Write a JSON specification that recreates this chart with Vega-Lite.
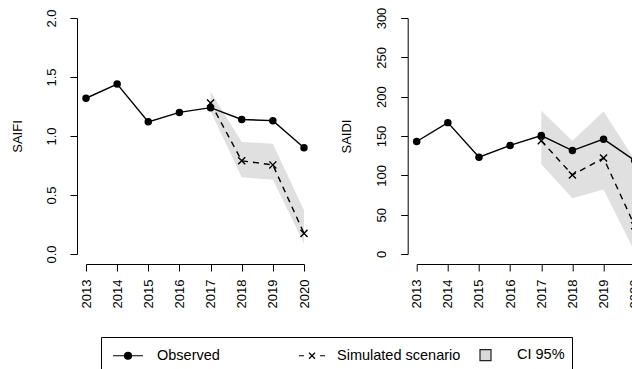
{
  "$schema": "https://vega.github.io/schema/vega-lite/v6.json",
  "background": "white",
  "padding": {"left": 11, "top": 7, "right": 0, "bottom": 0},
  "bounds": "flush",
  "spacing": 112.7,
  "config": {
    "view": {"stroke": null},
    "font": "Liberation Sans",
    "axis": {
      "grid": false, "domainColor": "black", "tickColor": "black", "labelColor": "black", "titleColor": "black",
      "labelFont": "Liberation Sans", "titleFont": "Liberation Sans", "labelFontSize": 13, "titleFontSize": 13,
      "titleFontWeight": "normal", "tickSize": 7, "domainWidth": 1, "tickWidth": 1, "labelOverlap": false, "labelFlush": false
    },
    "legend": {
      "orient": "none", "legendX": 15, "legendY": 319, "direction": "horizontal", "columns": 3,
      "gridAlign": "all", "columnPadding": 7, "padding": 7, "strokeColor": "black", "fillColor": "white",
      "symbolSize": 400, "symbolStrokeWidth": 1.2, "symbolOpacity": 1,
      "labelFont": "Liberation Sans", "labelFontSize": 14.5, "labelColor": "black", "labelOffset": 27, "labelLimit": 300
    }
  },
  "datasets": {
    "saifi_obs": [
      {"year": 2013, "value": 1.32}, {"year": 2014, "value": 1.44}, {"year": 2015, "value": 1.12}, {"year": 2016, "value": 1.20},
      {"year": 2017, "value": 1.24}, {"year": 2018, "value": 1.14}, {"year": 2019, "value": 1.13}, {"year": 2020, "value": 0.90}
    ],
    "saifi_sim": [
      {"year": 2017, "value": 1.28, "lo": 1.21, "hi": 1.375},
      {"year": 2018, "value": 0.79, "lo": 0.65, "hi": 0.95},
      {"year": 2019, "value": 0.755, "lo": 0.63, "hi": 0.935},
      {"year": 2020, "value": 0.175, "lo": 0.09, "hi": 0.37}
    ],
    "saidi_obs": [
      {"year": 2013, "value": 143}, {"year": 2014, "value": 167}, {"year": 2015, "value": 123}, {"year": 2016, "value": 138},
      {"year": 2017, "value": 150.5}, {"year": 2018, "value": 131.5}, {"year": 2019, "value": 146}, {"year": 2020, "value": 119}
    ],
    "saidi_sim": [
      {"year": 2017, "value": 144, "lo": 114, "hi": 182},
      {"year": 2018, "value": 100.5, "lo": 71, "hi": 144},
      {"year": 2019, "value": 122, "lo": 82, "hi": 181},
      {"year": 2020, "value": 36, "lo": 3, "hi": 120}
    ],
    "legend_items": [
      {"item": "Observed"}, {"item": "Simulated scenario"}, {"item": "CI 95%"}
    ]
  },
  "hconcat": [
    {
      "width": 218, "height": 236,
      "encoding": {
        "x": {"field": "year", "type": "quantitative", "title": null,
              "scale": {"domain": [2013, 2020], "nice": false, "zero": false},
              "axis": {"offset": 10, "values": [2013, 2014, 2015, 2016, 2017, 2018, 2019, 2020], "format": "d",
                       "labelAngle": -90, "labelAlign": "right", "labelBaseline": "middle", "labelPadding": 8}}
      },
      "layer": [
        {
          "data": {"name": "saifi_sim"},
          "mark": {"type": "area", "color": "#e0e0e0", "opacity": 1},
          "encoding": {
            "y": {"field": "lo", "type": "quantitative", "title": "SAIFI",
                  "scale": {"domain": [0, 2], "nice": false, "zero": false},
                  "axis": {"offset": 9, "values": [0, 0.5, 1, 1.5, 2], "format": ".1f",
                           "labelAngle": -90, "labelAlign": "center", "labelBaseline": "middle", "labelPadding": 19,
                           "titleX": -60, "titleY": 118, "titleAngle": -90, "titleAlign": "center", "titleBaseline": "middle"}},
            "y2": {"field": "hi"}
          }
        },
        {
          "data": {"name": "saifi_obs"},
          "mark": {"type": "line", "color": "black", "strokeWidth": 1.4},
          "encoding": {"y": {"field": "value", "type": "quantitative", "title": "SAIFI",
                  "scale": {"domain": [0, 2], "nice": false, "zero": false},
                  "axis": {"offset": 9, "values": [0, 0.5, 1, 1.5, 2], "format": ".1f",
                           "labelAngle": -90, "labelAlign": "center", "labelBaseline": "middle", "labelPadding": 19,
                           "titleX": -60, "titleY": 118, "titleAngle": -90, "titleAlign": "center", "titleBaseline": "middle"}}}
        },
        {
          "data": {"name": "saifi_obs"},
          "mark": {"type": "point", "filled": true, "color": "black", "size": 56, "opacity": 1},
          "encoding": {"y": {"field": "value", "type": "quantitative", "title": "SAIFI",
                  "scale": {"domain": [0, 2], "nice": false, "zero": false},
                  "axis": {"offset": 9, "values": [0, 0.5, 1, 1.5, 2], "format": ".1f",
                           "labelAngle": -90, "labelAlign": "center", "labelBaseline": "middle", "labelPadding": 19,
                           "titleX": -60, "titleY": 118, "titleAngle": -90, "titleAlign": "center", "titleBaseline": "middle"}}}
        },
        {
          "data": {"name": "saifi_sim"},
          "mark": {"type": "line", "color": "black", "strokeWidth": 1.4, "strokeDash": [6, 5]},
          "encoding": {"y": {"field": "value", "type": "quantitative", "title": "SAIFI",
                  "scale": {"domain": [0, 2], "nice": false, "zero": false},
                  "axis": {"offset": 9, "values": [0, 0.5, 1, 1.5, 2], "format": ".1f",
                           "labelAngle": -90, "labelAlign": "center", "labelBaseline": "middle", "labelPadding": 19,
                           "titleX": -60, "titleY": 118, "titleAngle": -90, "titleAlign": "center", "titleBaseline": "middle"}}}
        },
        {
          "data": {"name": "saifi_sim"},
          "mark": {"type": "point", "shape": "M-1,-1L1,1M-1,1L1,-1", "filled": false, "stroke": "black", "strokeWidth": 1.4, "size": 50, "opacity": 1},
          "encoding": {"y": {"field": "value", "type": "quantitative", "title": "SAIFI",
                  "scale": {"domain": [0, 2], "nice": false, "zero": false},
                  "axis": {"offset": 9, "values": [0, 0.5, 1, 1.5, 2], "format": ".1f",
                           "labelAngle": -90, "labelAlign": "center", "labelBaseline": "middle", "labelPadding": 19,
                           "titleX": -60, "titleY": 118, "titleAngle": -90, "titleAlign": "center", "titleBaseline": "middle"}}}
        },
        {
          "data": {"name": "legend_items"},
          "mark": {"type": "point", "filled": true, "strokeWidth": 1.2, "opacity": 0},
          "encoding": {
            "shape": {"field": "item", "type": "nominal", "title": null,
              "scale": {"domain": ["Observed", "Simulated scenario", "CI 95%"],
                        "range": ["M-0.6,0H2.4M0.55,0A0.35,0.35,0,1,0,1.25,0A0.35,0.35,0,1,0,0.55,0Z",
                                  "M0,0H0.5M2.1,0H2.6M1,-0.3L1.6,0.3M1,0.3L1.6,-0.3",
                                  "M0.1,-0.55H1.2V0.55H0.1Z"]}},
            "fill": {"field": "item", "type": "nominal", "title": null,
              "scale": {"domain": ["Observed", "Simulated scenario", "CI 95%"], "range": ["black", "transparent", "#d9d9d9"]}},
            "stroke": {"field": "item", "type": "nominal", "title": null,
              "scale": {"domain": ["Observed", "Simulated scenario", "CI 95%"], "range": ["black", "black", "#222222"]}}
          }
        }
      ]
    },
    {
      "width": 218, "height": 236,
      "encoding": {
        "x": {"field": "year", "type": "quantitative", "title": null,
              "scale": {"domain": [2013, 2020], "nice": false, "zero": false},
              "axis": {"offset": 10, "values": [2013, 2014, 2015, 2016, 2017, 2018, 2019, 2020], "format": "d",
                       "labelAngle": -90, "labelAlign": "right", "labelBaseline": "middle", "labelPadding": 8}}
      },
      "layer": [
        {
          "data": {"name": "saidi_sim"},
          "mark": {"type": "area", "color": "#e0e0e0", "opacity": 1},
          "encoding": {
            "y": {"field": "lo", "type": "quantitative", "title": "SAIDI",
                  "scale": {"domain": [0, 300], "nice": false, "zero": false},
                  "axis": {"offset": 9, "values": [0, 50, 100, 150, 200, 250, 300], "format": "d",
                           "labelAngle": -90, "labelAlign": "center", "labelBaseline": "middle", "labelPadding": 19,
                           "titleX": -61, "titleY": 118, "titleAngle": -90, "titleAlign": "center", "titleBaseline": "middle"}},
            "y2": {"field": "hi"}
          }
        },
        {
          "data": {"name": "saidi_obs"},
          "mark": {"type": "line", "color": "black", "strokeWidth": 1.4},
          "encoding": {"y": {"field": "value", "type": "quantitative", "title": "SAIDI",
                  "scale": {"domain": [0, 300], "nice": false, "zero": false},
                  "axis": {"offset": 9, "values": [0, 50, 100, 150, 200, 250, 300], "format": "d",
                           "labelAngle": -90, "labelAlign": "center", "labelBaseline": "middle", "labelPadding": 19,
                           "titleX": -61, "titleY": 118, "titleAngle": -90, "titleAlign": "center", "titleBaseline": "middle"}}}
        },
        {
          "data": {"name": "saidi_obs"},
          "mark": {"type": "point", "filled": true, "color": "black", "size": 56, "opacity": 1},
          "encoding": {"y": {"field": "value", "type": "quantitative", "title": "SAIDI",
                  "scale": {"domain": [0, 300], "nice": false, "zero": false},
                  "axis": {"offset": 9, "values": [0, 50, 100, 150, 200, 250, 300], "format": "d",
                           "labelAngle": -90, "labelAlign": "center", "labelBaseline": "middle", "labelPadding": 19,
                           "titleX": -61, "titleY": 118, "titleAngle": -90, "titleAlign": "center", "titleBaseline": "middle"}}}
        },
        {
          "data": {"name": "saidi_sim"},
          "mark": {"type": "line", "color": "black", "strokeWidth": 1.4, "strokeDash": [6, 5]},
          "encoding": {"y": {"field": "value", "type": "quantitative", "title": "SAIDI",
                  "scale": {"domain": [0, 300], "nice": false, "zero": false},
                  "axis": {"offset": 9, "values": [0, 50, 100, 150, 200, 250, 300], "format": "d",
                           "labelAngle": -90, "labelAlign": "center", "labelBaseline": "middle", "labelPadding": 19,
                           "titleX": -61, "titleY": 118, "titleAngle": -90, "titleAlign": "center", "titleBaseline": "middle"}}}
        },
        {
          "data": {"name": "saidi_sim"},
          "mark": {"type": "point", "shape": "M-1,-1L1,1M-1,1L1,-1", "filled": false, "stroke": "black", "strokeWidth": 1.4, "size": 50, "opacity": 1},
          "encoding": {"y": {"field": "value", "type": "quantitative", "title": "SAIDI",
                  "scale": {"domain": [0, 300], "nice": false, "zero": false},
                  "axis": {"offset": 9, "values": [0, 50, 100, 150, 200, 250, 300], "format": "d",
                           "labelAngle": -90, "labelAlign": "center", "labelBaseline": "middle", "labelPadding": 19,
                           "titleX": -61, "titleY": 118, "titleAngle": -90, "titleAlign": "center", "titleBaseline": "middle"}}}
        }
      ]
    }
  ],
  "resolve": {"scale": {"x": "independent", "y": "independent"}}
}
